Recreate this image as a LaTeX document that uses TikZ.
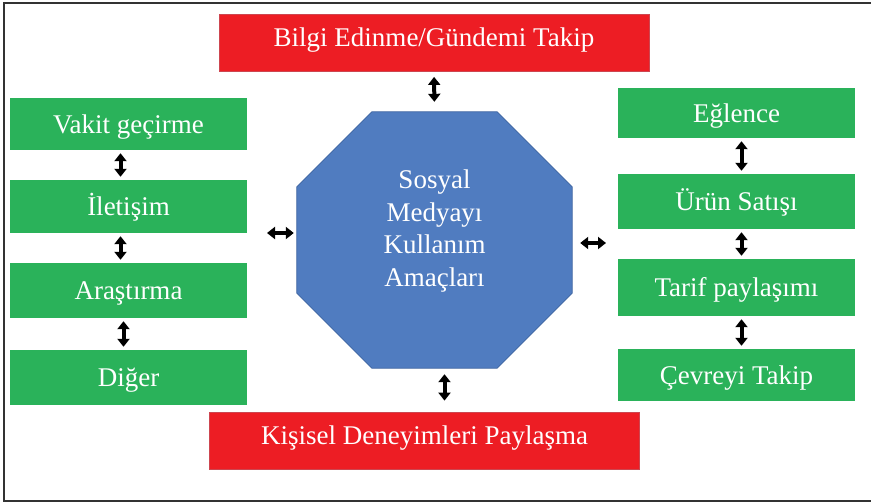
\documentclass[tikz,border=0pt]{standalone}
\usepackage{fontspec}
\setmainfont{Liberation Serif}
\usetikzlibrary{arrows.meta,positioning}
\definecolor{boxred}{RGB}{237,29,36}
\definecolor{boxgreen}{RGB}{42,178,90}
\definecolor{octblue}{RGB}{80,124,192}
\definecolor{octedge}{RGB}{60,98,160}

\begin{document}
\begin{tikzpicture}[x=1pt,y=-1pt,>={Triangle[width=12pt,length=8pt]},
  title node/.style={rectangle,fill=boxred,draw={rgb,255:red,205;green,70;blue,80},line width=0.8pt,text=white,minimum width=430pt,minimum height=57pt,inner sep=0pt,text height=18pt,text depth=10pt,font=\fontsize{27}{32}\selectfont},
  item node/.style={rectangle,fill=boxgreen,text=white,minimum width=237pt,inner sep=0pt,text height=18pt,text depth=0pt,font=\fontsize{27}{32}\selectfont},
  link/.style={<->,line width=4pt,black,shorten <=3pt,shorten >=3pt}]
	\useasboundingbox (0,0) rectangle (871,503);
	\draw[line width=2.5pt,black!80] (871,3) -- (4,3) -- (4,501) -- (871,501);

	% top and bottom
	\node[title node] (bilgi) at (434,43) {Bilgi Edinme/Gündemi Takip};
	\node[title node] (kisisel) at (424.5,440.5) {Kişisel Deneyimleri Paylaşma};

	% centre
	\node[minimum width=275pt,minimum height=256pt,inner sep=0pt] (oct) at (434.5,240) {};
	\filldraw[fill=octblue,draw=octedge,line width=0.8pt]
		([xshift=75pt]oct.north west) -- ([xshift=-75pt]oct.north east)
		-- ([yshift=-75pt]oct.north east) -- ([yshift=75pt]oct.south east)
		-- ([xshift=-75pt]oct.south east) -- ([xshift=75pt]oct.south west)
		-- ([yshift=75pt]oct.south west) -- ([yshift=-75pt]oct.north west) -- cycle;
	\node[text=white,align=center,font=\fontsize{27}{32.5}\selectfont] (amac) at (434.5,231) {Sosyal\\Medyayı\\Kullanım\\Amaçları};

	% left column
	\node[item node,minimum height=52pt] (vakit) at (128.5,124) {Vakit geçirme};
	\node[item node,minimum height=53pt] (iletisim) at (128.5,206.5) {İletişim};
	\node[item node,minimum height=55pt] (arastirma) at (128.5,290.5) {Araştırma};
	\node[item node,minimum height=55pt] (diger) at (128.5,377.5) {Diğer};

	% right column
	\node[item node,minimum height=50pt] (eglence) at (736.5,113) {Eğlence};
	\node[item node,minimum height=55pt] (urun) at (736.5,201.5) {Ürün Satışı};
	\node[item node,minimum height=57pt] (tarif) at (736.5,287.5) {Tarif paylaşımı};
	\node[item node,minimum height=52pt] (cevre) at (736.5,375) {Çevreyi Takip};

	\coordinate (lgap) at (267,233);
	\coordinate (rgap) at (606,243);

	\path[link]
		([xshift=-8pt]vakit.south) edge ([xshift=-8pt]iletisim.north)
		([xshift=-8pt]iletisim.south) edge ([xshift=-8pt]arastirma.north)
		([xshift=-5pt]arastirma.south) edge ([xshift=-5pt]diger.north)
		([xshift=5pt]eglence.south) edge ([xshift=5pt]urun.north)
		([xshift=5pt]urun.south) edge ([xshift=5pt]tarif.north)
		([xshift=5pt]tarif.south) edge ([xshift=5pt]cevre.north)
		(bilgi.south) edge [shorten <=5pt,shorten >=10pt] (oct.north)
		([xshift=10pt]oct.south) edge [shorten <=6pt,shorten >=11pt] ([xshift=20pt]kisisel.north)
		(lgap) edge [shorten <=0pt] (lgap -| oct.west)
		(oct.east |- rgap) edge [shorten <=8pt,shorten >=0pt] (rgap);
\end{tikzpicture}
\end{document}
